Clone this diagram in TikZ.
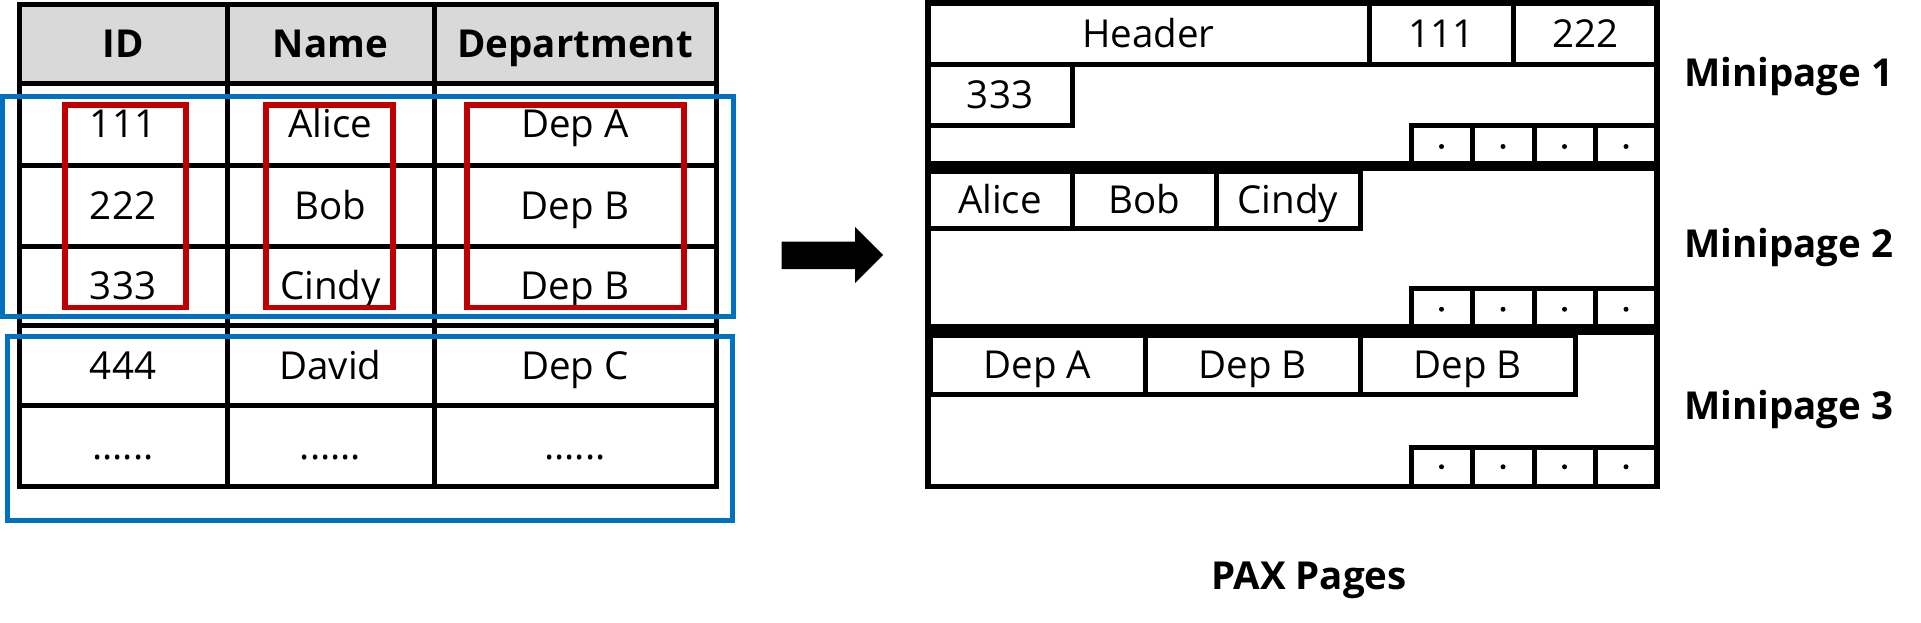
\documentclass[tikz,border=0pt]{standalone}
\usepackage{fontspec}
\setmainfont{Open Sans}
\newcommand{\fsz}{\fontsize{38.5}{46}\selectfont}
\definecolor{redb}{HTML}{C00000}
\definecolor{blueb}{HTML}{0070C0}
\definecolor{headg}{HTML}{D9D9D9}
\begin{document}
\begin{tikzpicture}[x=1pt,y=-1pt,
  cell/.style={draw, line width=5pt, inner sep=0pt, text height=27.5pt, text depth=0pt, font=\fsz},
  hcell/.style={cell, fill=headg, font=\fsz\bfseries},
  redbox/.style={draw=redb, line width=5.5pt, inner sep=0pt},
  bluebox/.style={draw=blueb, line width=5pt, inner sep=0pt},
  slot/.style={draw, line width=5pt, inner sep=0pt, minimum height=41pt},
  dotm/.style={circle, fill, inner sep=0pt, minimum size=5pt},
  lbl/.style={inner sep=0pt, text height=27.5pt, text depth=0pt, font=\fsz\bfseries},
  sep/.style={line width=10.5pt},
]
\useasboundingbox (0,0) rectangle (1921,622);
% ---------- table ----------
\node[hcell, minimum width=208pt, minimum height=78.5pt] (hID) at (123,43.75) {ID};
\node[hcell, minimum width=207pt, minimum height=78.5pt] (hName) at (330.5,43.75) {Name};
\node[hcell, minimum width=282pt, minimum height=78.5pt] (hDep) at (575,43.75) {Department};
% rows
\node[cell, minimum width=208pt, minimum height=82pt] (c11) at (123,124) {111};
\node[cell, minimum width=207pt, minimum height=82pt] (c12) at (330.5,124) {Alice};
\node[cell, minimum width=282pt, minimum height=82pt] (c13) at (575,124) {Dep A};
\node[cell, minimum width=208pt, minimum height=81pt] (c21) at (123,205.5) {222};
\node[cell, minimum width=207pt, minimum height=81pt] (c22) at (330.5,205.5) {Bob};
\node[cell, minimum width=282pt, minimum height=81pt] (c23) at (575,205.5) {Dep B};
\node[cell, minimum width=208pt, minimum height=79.5pt] (c31) at (123,285.75) {333};
\node[cell, minimum width=207pt, minimum height=79.5pt] (c32) at (330.5,285.75) {Cindy};
\node[cell, minimum width=282pt, minimum height=79.5pt] (c33) at (575,285.75) {Dep B};
\node[cell, minimum width=208pt, minimum height=80pt] (c41) at (123,365.5) {444};
\node[cell, minimum width=207pt, minimum height=80pt] (c42) at (330.5,365.5) {David};
\node[cell, minimum width=282pt, minimum height=80pt] (c43) at (575,365.5) {Dep C};
\node[cell, minimum width=208pt, minimum height=81pt] (c51) at (123,446) {......};
\node[cell, minimum width=207pt, minimum height=81pt] (c52) at (330.5,446) {......};
\node[cell, minimum width=282pt, minimum height=81pt] (c53) at (575,446) {......};
% blue boxes
\node[bluebox, minimum width=730.5pt, minimum height=219.5pt] (blue1) at (367.75,206.25) {};
\node[bluebox, minimum width=725pt, minimum height=184pt] (blue2) at (369.5,428) {};
% red boxes
\node[redbox, minimum width=121pt, minimum height=202.5pt] (redID) at (125.5,206.25) {};
\node[redbox, minimum width=127pt, minimum height=202.5pt] (redName) at (329.5,206.25) {};
\node[redbox, minimum width=217pt, minimum height=202.5pt] (redDep) at (575.5,206.25) {};
% ---------- arrow ----------
\fill (781.7,241.7) -- (855,241.7) -- (855,227) -- (883,255) -- (855,283) -- (855,269) -- (781.7,269) -- cycle;
% ---------- PAX pages ----------
\node[draw, line width=5.5pt, inner sep=0pt, minimum width=729pt, minimum height=483.5pt] (pax) at (1292.5,244.75) {};
% minipage 1
\node[cell, minimum width=441pt, minimum height=61pt] (pHeader) at (1148.5,33.5) {Header};
\node[cell, minimum width=144pt, minimum height=61pt] (p111) at (1441,33.5) {111};
\node[cell, minimum width=144pt, minimum height=61pt] (p222) at (1585,33.5) {222};
\node[cell, minimum width=144pt, minimum height=61pt] (p333) at (1000,94.5) {333};
\node[slot, minimum width=61pt] (s11) at (1441.5,145.5) {};
\node[slot, minimum width=62pt] (s12) at (1503,145.5) {};
\node[slot, minimum width=61pt] (s13) at (1564.5,145.5) {};
\node[slot, minimum width=62pt] (s14) at (1626,145.5) {};
\foreach \i in {1,2,3,4} {\node[dotm] (d1\i) at ([yshift=-1pt]s1\i.center) {};}
\draw[sep] (928,166) -- (1657,166);
% minipage 2
\node[cell, minimum width=144pt, minimum height=57pt] (pAlice) at (1000,199.5) {Alice};
\node[cell, minimum width=144pt, minimum height=57pt] (pBob) at (1144,199.5) {Bob};
\node[cell, minimum width=144pt, minimum height=57pt] (pCindy) at (1288,199.5) {Cindy};
\node[slot, minimum width=61pt] (s21) at (1441.5,309.25) {};
\node[slot, minimum width=62pt] (s22) at (1503,309.25) {};
\node[slot, minimum width=61pt] (s23) at (1564.5,309.25) {};
\node[slot, minimum width=62pt] (s24) at (1626,309.25) {};
\foreach \i in {1,2,3,4} {\node[dotm] (d2\i) at (s2\i.center) {};}
\draw[sep] (928,329.5) -- (1657,329.5);
% minipage 3
\node[cell, minimum width=215pt, minimum height=59pt] (pDepA) at (1037.5,364.5) {Dep A};
\node[cell, minimum width=215pt, minimum height=59pt] (pDepB1) at (1252.5,364.5) {Dep B};
\node[cell, minimum width=215pt, minimum height=59pt] (pDepB2) at (1467.5,364.5) {Dep B};
\node[slot, minimum width=61pt, minimum height=39.5pt] (s31) at (1441.5,466.75) {};
\node[slot, minimum width=62pt, minimum height=39.5pt] (s32) at (1503,466.75) {};
\node[slot, minimum width=61pt, minimum height=39.5pt] (s33) at (1564.5,466.75) {};
\node[slot, minimum width=62pt, minimum height=39.5pt] (s34) at (1626,466.75) {};
\foreach \i in {1,2,3,4} {\node[dotm] (d3\i) at (s3\i.center) {};}
% labels
\node[lbl, anchor=west] (m1) at (1684,73) {Minipage 1};
\node[lbl, anchor=west] (m2) at (1684,244) {Minipage 2};
\node[lbl, anchor=west] (m3) at (1684,405.5) {Minipage 3};
\node[lbl] (paxlbl) at (1309,576) {PAX Pages};
\end{tikzpicture}
\end{document}
